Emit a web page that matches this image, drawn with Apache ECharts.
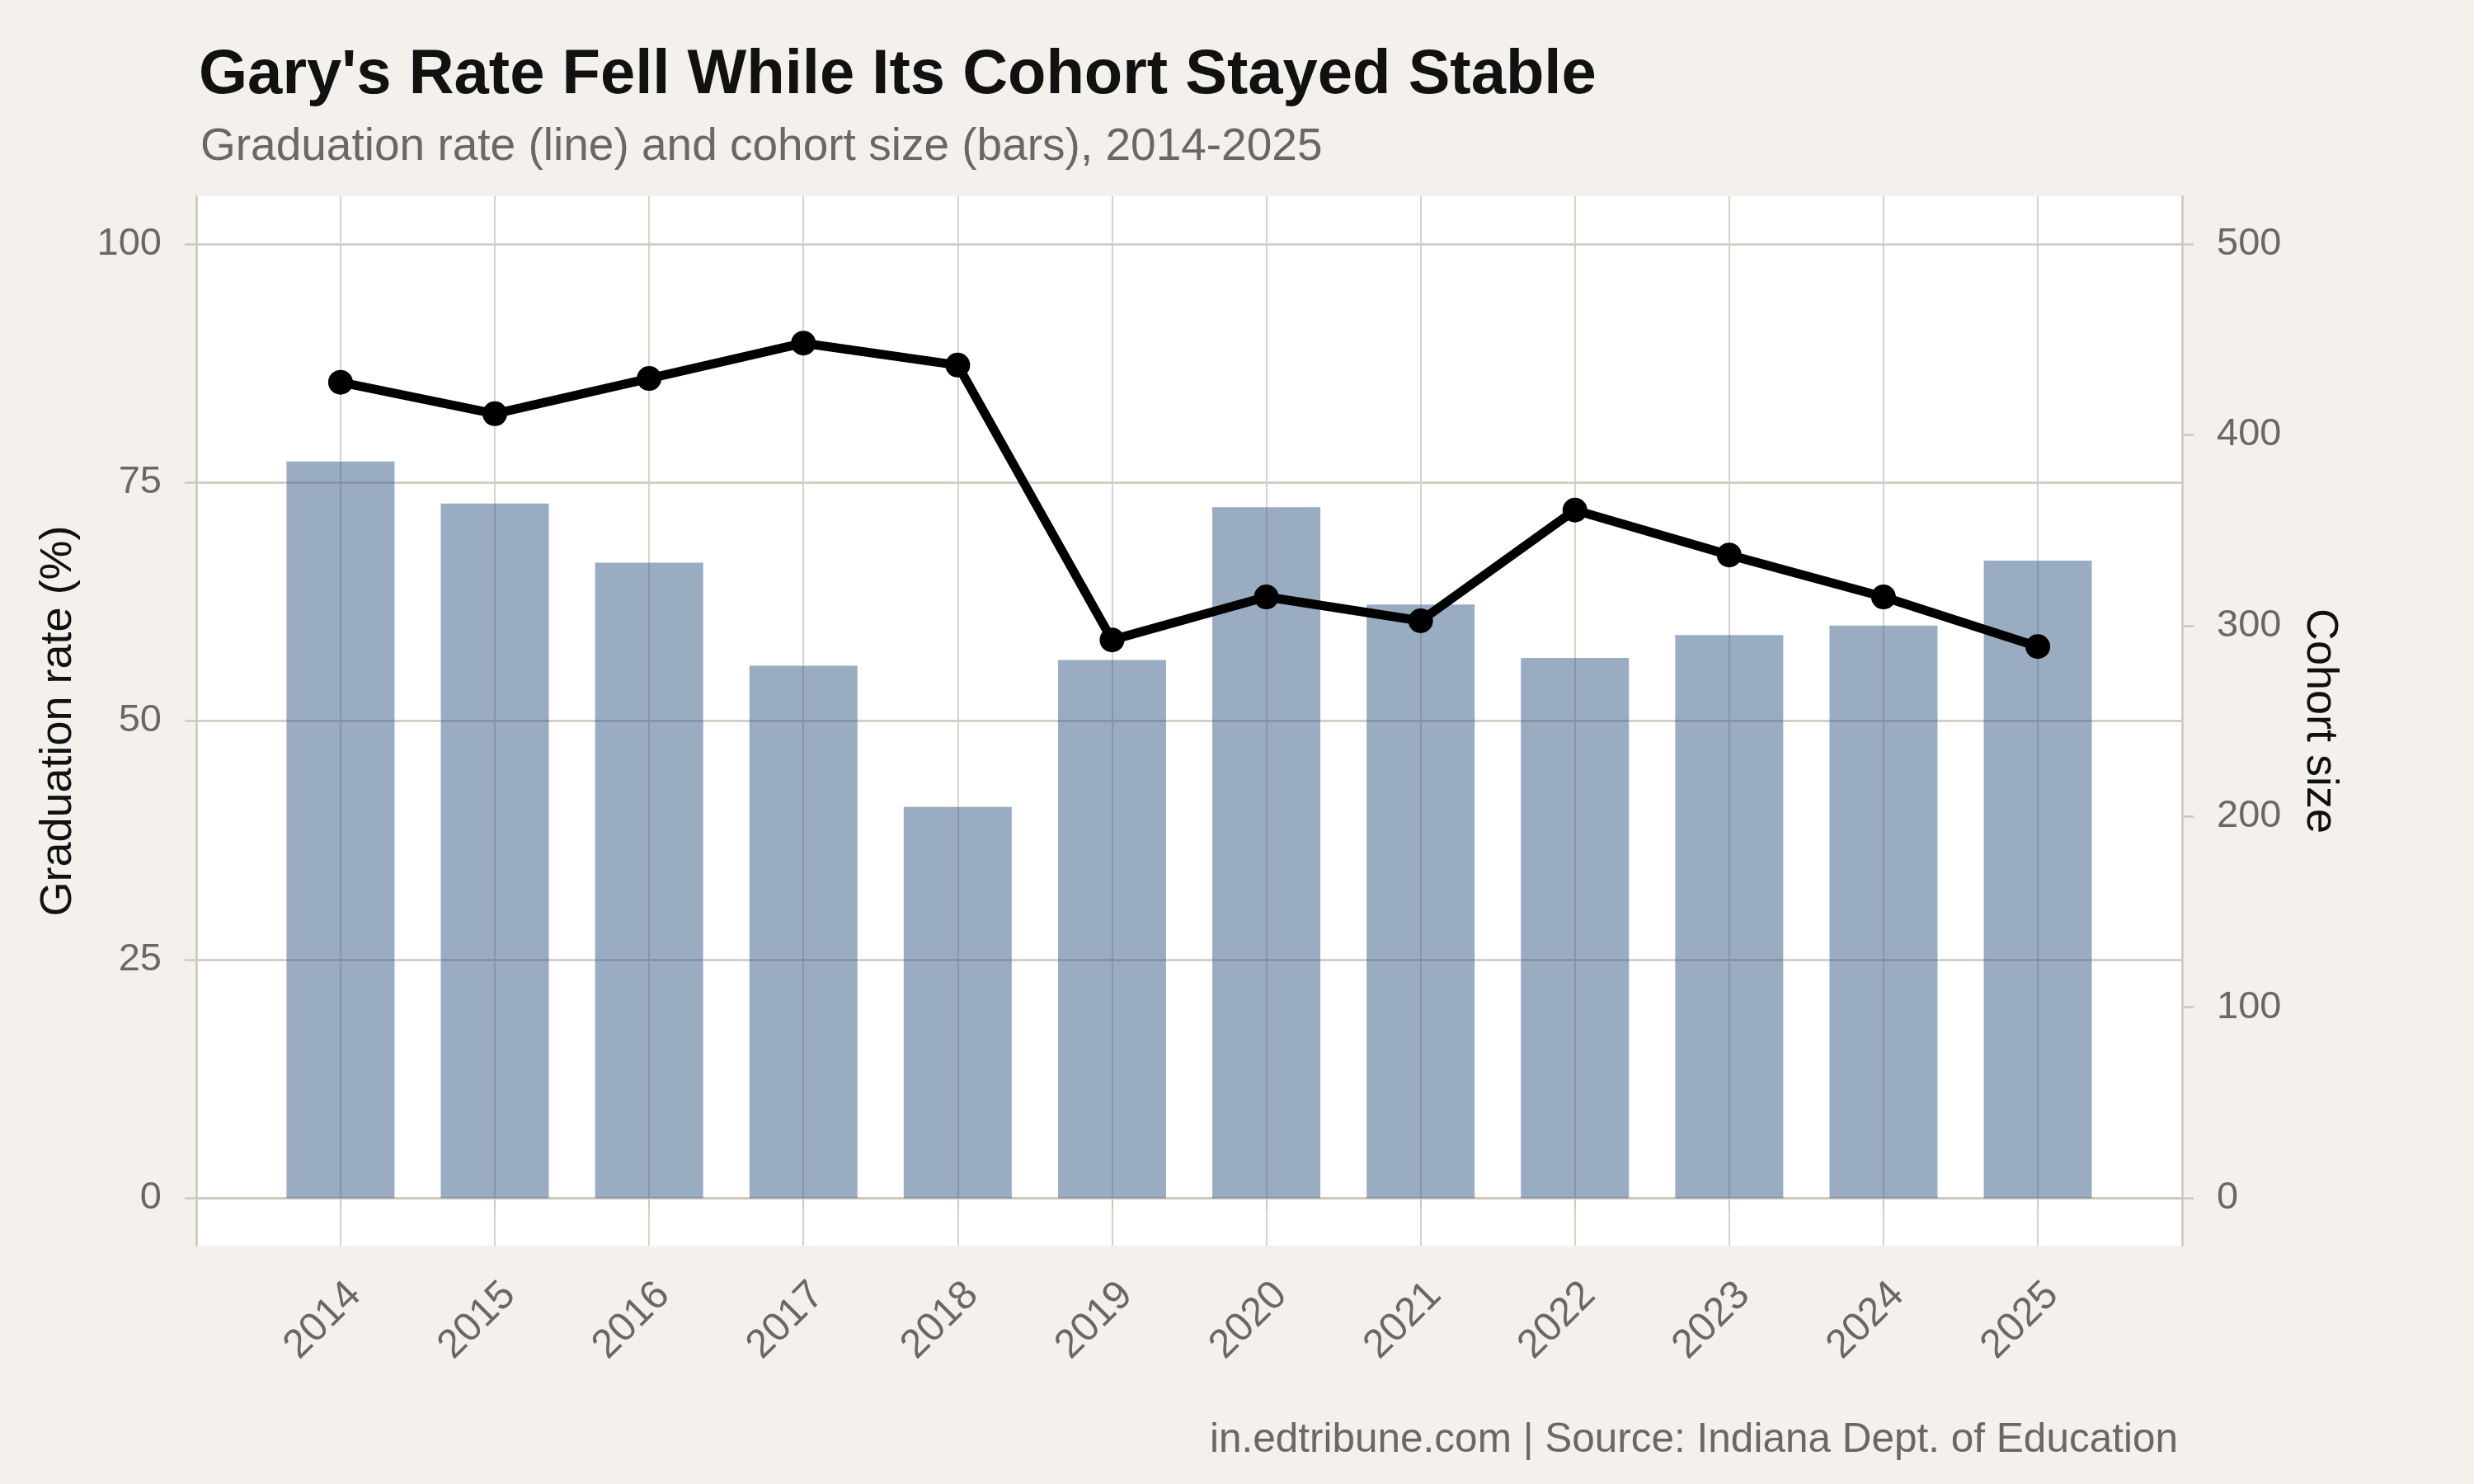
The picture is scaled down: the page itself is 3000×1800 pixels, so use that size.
<html lang="en">
	<head>
		<meta charset="UTF-8" />
		<script src="https://cdn.jsdelivr.net/npm/echarts@6/dist/echarts.min.js"></script>
		<title>Gary graduation</title>
		<style>
			* {
				padding: 0;
				margin: 0;
			}
			body {
				background: #f4f1ec;
			}
		</style>
	</head>

	<body>
		<div id="main" style="width:3000px;height:1800px"></div>
		<script>
			// data
			var years = [2014, 2015, 2016, 2017, 2018, 2019, 2020, 2021, 2022, 2023, 2024, 2025]
			var gradRate = [85.5, 82.2, 85.9, 89.6, 87.3, 58.5, 63.0, 60.5, 72.1, 67.4, 63.0, 57.8]
			var cohortSize = [386, 364, 333, 279, 205, 282, 362, 311, 283, 295, 300, 334]
			var rateTicks = [0, 25, 50, 75, 100]
			var sizeTicks = [0, 100, 200, 300, 400, 500]

			var font = "Liberation Sans"
			var grey = "#6b6862"
			var gridCol = "#cdc7bd"

			var barData = years.map(function(y, i) {
				return [y, cohortSize[i]]
			})
			var lineData = years.map(function(y, i) {
				return [y, gradRate[i]]
			})

			var myChart = echarts.init(document.getElementById("main"))
			var option = {
				backgroundColor: "#f4f1ec",
				animation: false,
				title: [
					{
						text: "Gary's Rate Fell While Its Cohort Stayed Stable",
						left: 236,
						top: 49,
						textStyle: { fontFamily: font, fontSize: 76, fontWeight: "bold", color: "#111111" }
					},
					{
						text: "Graduation rate (line) and cohort size (bars), 2014-2025",
						left: 238,
						top: 146,
						textStyle: { fontFamily: font, fontSize: 55, fontWeight: "normal", color: grey }
					},
					{
						text: "in.edtribune.com | Source: Indiana Dept. of Education",
						right: 354,
						top: 1717,
						textStyle: { fontFamily: font, fontSize: 49.5, fontWeight: "normal", color: grey }
					}
				],
				grid: {
					left: 238,
					right: 354,
					top: 238,
					bottom: 289,
					show: true,
					backgroundColor: "#ffffff",
					borderWidth: 0
				},
				xAxis: {
					type: "value",
					min: 2013.065,
					max: 2025.935,
					axisLine: { show: true, lineStyle: { color: gridCol, width: 2.5 } },
					axisTick: {
						show: true,
						customValues: years,
						length: 14,
						lineStyle: { color: gridCol, width: 2 }
					},
					axisLabel: {
						customValues: years,
						rotate: 45,
						margin: 35,
						verticalAlign: "top",
						fontFamily: font,
						fontSize: 49,
						color: grey,
						formatter: function(v) {
							return String(v)
						}
					},
					splitLine: { show: true, lineStyle: { color: "#d3cec6", width: 1.8 } }
				},
				yAxis: [
					{
						type: "value",
						min: -5,
						max: 105,
						position: "left",
						name: "Graduation rate (%)",
						nameLocation: "middle",
						nameGap: 140,
						nameTextStyle: { fontFamily: font, fontSize: 54, color: "#111111" },
						axisLine: { show: true, lineStyle: { color: gridCol, width: 2.5 } },
						axisTick: {
							show: true,
							customValues: rateTicks,
							length: 14,
							lineStyle: { color: gridCol, width: 2.5 }
						},
						axisLabel: {
							customValues: rateTicks,
							margin: 42,
							fontFamily: font,
							fontSize: 47,
							color: grey
						},
						splitLine: { show: true, lineStyle: { color: gridCol, width: 2.5 } }
					},
					{
						type: "value",
						min: -25,
						max: 525,
						position: "right",
						name: "Cohort size",
						nameLocation: "middle",
						nameRotate: -90,
						nameGap: 140,
						nameTextStyle: { fontFamily: font, fontSize: 54, color: "#111111" },
						axisLine: { show: true, lineStyle: { color: gridCol, width: 2.5 } },
						axisTick: {
							show: true,
							customValues: sizeTicks,
							length: 14,
							lineStyle: { color: gridCol, width: 2.5 }
						},
						axisLabel: {
							customValues: sizeTicks,
							margin: 42,
							fontFamily: font,
							fontSize: 47,
							color: grey
						},
						splitLine: { show: false }
					}
				],
				series: [
					{
						type: "bar",
						yAxisIndex: 1,
						barWidth: 131,
						itemStyle: { color: "rgba(51,89,133,0.5)" },
						data: barData
					},
					{
						type: "line",
						yAxisIndex: 0,
						symbol: "circle",
						symbolSize: 30,
						lineStyle: { color: "#000000", width: 11 },
						itemStyle: { color: "#000000" },
						data: lineData
					}
				]
			}
			myChart.setOption(option)
		</script>
	</body>
</html>
